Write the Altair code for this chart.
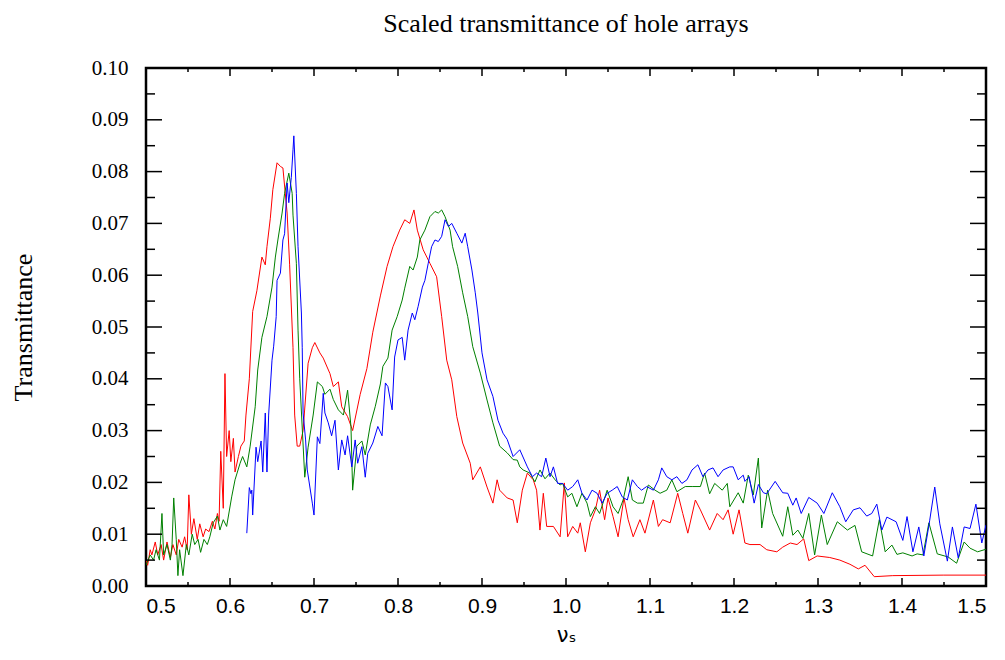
import altair as alt
import pandas as pd

# ---- data ----
red_x = [0.500,0.502,0.505,0.507,0.511,0.514,0.518,0.521,0.525,0.529,0.532,0.536,0.539,0.543,0.546,0.549,0.551,0.554,0.557,0.561,
         0.564,0.568,0.571,0.575,0.579,0.582,0.585,0.587,0.589,0.592,0.594,0.596,0.599,0.601,0.604,0.606,0.610,0.613,0.617,0.619,
         0.623,0.627,0.632,0.638,0.642,0.644,0.648,0.651,0.656,0.660,0.663,0.668,0.671,0.675,0.677,0.680,0.683,0.687,0.693,0.698,
         0.701,0.707,0.711,0.719,0.723,0.729,0.733,0.740,0.746,0.755,0.763,0.770,0.779,0.787,0.794,0.802,0.808,0.814,0.819,0.823,
         0.830,0.838,0.846,0.852,0.858,0.864,0.870,0.877,0.886,0.889,0.898,0.906,0.913,0.918,0.921,0.930,0.937,0.942,0.948,0.954,
         0.961,0.965,0.969,0.973,0.977,0.985,0.993,0.998,1.002,1.008,1.014,1.017,1.023,1.029,1.035,1.040,1.046,1.050,1.056,1.062,
         1.069,1.074,1.080,1.088,1.094,1.104,1.110,1.115,1.124,1.133,1.139,1.145,1.154,1.160,1.171,1.180,1.187,1.193,1.199,1.206,
         1.213,1.219,1.231,1.239,1.251,1.258,1.267,1.275,1.283,1.289,1.299,1.314,1.326,1.338,1.348,1.356,1.367,1.389,1.449,1.500]
red_y = [0.0050,0.0040,0.0070,0.0060,0.0085,0.0060,0.0080,0.0050,0.0085,0.0055,0.0080,0.0060,0.0090,0.0075,0.0095,0.0070,0.0176,0.0100,0.0130,0.0090,
         0.0120,0.0095,0.0110,0.0105,0.0125,0.0110,0.0140,0.0125,0.0260,0.0150,0.0410,0.0250,0.0300,0.0240,0.0285,0.0220,0.0250,0.0270,0.0280,0.0330,
         0.0400,0.0530,0.0570,0.0635,0.0620,0.0655,0.0710,0.0765,0.0817,0.0810,0.0807,0.0720,0.0620,0.0460,0.0330,0.0270,0.0270,0.0300,0.0430,0.0460,
         0.0470,0.0450,0.0440,0.0410,0.0385,0.0394,0.0346,0.0327,0.0300,0.0370,0.0420,0.0490,0.0560,0.0617,0.0655,0.0687,0.0707,0.0700,0.0726,0.0687,
         0.0649,0.0623,0.0597,0.0520,0.0436,0.0398,0.0327,0.0276,0.0237,0.0205,0.0230,0.0191,0.0160,0.0205,0.0185,0.0170,0.0166,0.0122,0.0185,0.0218,
         0.0205,0.0185,0.0108,0.0179,0.0115,0.0115,0.0095,0.0199,0.0095,0.0115,0.0102,0.0122,0.0066,0.0122,0.0147,0.0185,0.0128,0.0170,0.0134,0.0095,
         0.0170,0.0128,0.0095,0.0128,0.0102,0.0166,0.0115,0.0128,0.0122,0.0179,0.0140,0.0102,0.0166,0.0147,0.0108,0.0140,0.0128,0.0147,0.0100,0.0147,
         0.0083,0.0080,0.0080,0.0070,0.0066,0.0075,0.0083,0.0080,0.0091,0.0049,0.0058,0.0055,0.0050,0.0042,0.0033,0.0040,0.0018,0.0020,0.0021,0.0021]

green_x = [0.500,0.505,0.509,0.512,0.516,0.519,0.521,0.525,0.529,0.531,0.533,0.536,0.538,0.540,0.544,0.548,0.551,0.555,0.558,0.562,
           0.565,0.569,0.573,0.576,0.580,0.585,0.588,0.592,0.596,0.602,0.606,0.612,0.615,0.620,0.624,0.630,0.633,0.638,0.644,0.650,
           0.654,0.657,0.662,0.665,0.670,0.674,0.675,0.679,0.681,0.683,0.689,0.693,0.699,0.704,0.710,0.713,0.719,0.723,0.729,0.735,
           0.740,0.744,0.746,0.751,0.757,0.761,0.767,0.773,0.779,0.782,0.788,0.793,0.799,0.805,0.808,0.814,0.818,0.823,0.826,0.832,
           0.838,0.844,0.848,0.852,0.856,0.862,0.865,0.871,0.877,0.883,0.889,0.898,0.906,0.913,0.921,0.930,0.937,0.942,0.945,0.949,
           0.957,0.963,0.969,0.975,0.981,0.987,0.993,0.996,1.002,1.007,1.013,1.019,1.025,1.029,1.035,1.040,1.049,1.056,1.062,1.068,
           1.074,1.079,1.085,1.092,1.098,1.106,1.112,1.120,1.126,1.132,1.142,1.151,1.160,1.165,1.171,1.177,1.186,1.192,1.195,1.205,
           1.211,1.217,1.223,1.229,1.233,1.240,1.246,1.258,1.264,1.270,1.276,1.282,1.289,1.296,1.304,1.311,1.323,1.335,1.344,1.352,
           1.365,1.373,1.380,1.388,1.394,1.401,1.412,1.418,1.425,1.432,1.442,1.455,1.465,1.474,1.481,1.490,1.500]
green_y = [0.0040,0.0060,0.0050,0.0070,0.0050,0.0140,0.0060,0.0080,0.0050,0.0080,0.0170,0.0090,0.0020,0.0070,0.0020,0.0080,0.0060,0.0100,0.0080,0.0090,
           0.0065,0.0090,0.0080,0.0095,0.0122,0.0135,0.0108,0.0128,0.0115,0.0172,0.0205,0.0237,0.0250,0.0230,0.0270,0.0346,0.0417,0.0480,0.0520,0.0577,
           0.0635,0.0668,0.0720,0.0758,0.0797,0.0758,0.0716,0.0623,0.0494,0.0400,0.0210,0.0268,0.0330,0.0394,0.0385,0.0370,0.0380,0.0360,0.0340,0.0330,
           0.0378,0.0308,0.0185,0.0270,0.0280,0.0253,0.0311,0.0347,0.0390,0.0424,0.0440,0.0494,0.0520,0.0552,0.0575,0.0617,0.0610,0.0635,0.0668,0.0687,
           0.0713,0.0723,0.0720,0.0726,0.0713,0.0687,0.0655,0.0617,0.0566,0.0520,0.0462,0.0411,0.0359,0.0315,0.0270,0.0257,0.0244,0.0243,0.0230,0.0224,
           0.0218,0.0201,0.0224,0.0207,0.0218,0.0205,0.0195,0.0198,0.0172,0.0179,0.0153,0.0179,0.0160,0.0134,0.0153,0.0140,0.0185,0.0153,0.0140,0.0166,
           0.0211,0.0166,0.0160,0.0160,0.0195,0.0185,0.0179,0.0185,0.0205,0.0182,0.0192,0.0192,0.0192,0.0218,0.0178,0.0198,0.0185,0.0198,0.0153,0.0180,
           0.0160,0.0214,0.0176,0.0247,0.0112,0.0185,0.0140,0.0096,0.0153,0.0098,0.0108,0.0092,0.0140,0.0060,0.0137,0.0080,0.0124,0.0108,0.0117,0.0066,
           0.0058,0.0128,0.0066,0.0079,0.0061,0.0064,0.0058,0.0062,0.0060,0.0122,0.0062,0.0056,0.0044,0.0085,0.0073,0.0066,0.0071]

blue_x = [0.620,0.623,0.625,0.626,0.627,0.631,0.633,0.637,0.639,0.642,0.644,0.646,0.650,0.652,0.655,0.656,0.660,0.663,0.665,0.668,
          0.670,0.673,0.675,0.676,0.679,0.681,0.685,0.686,0.687,0.690,0.692,0.698,0.700,0.704,0.707,0.711,0.713,0.717,0.721,0.725,
          0.729,0.733,0.737,0.740,0.745,0.749,0.752,0.757,0.761,0.764,0.770,0.776,0.781,0.785,0.788,0.793,0.796,0.800,0.805,0.808,
          0.812,0.817,0.820,0.824,0.829,0.832,0.836,0.840,0.844,0.848,0.852,0.856,0.860,0.864,0.870,0.876,0.880,0.883,0.888,0.892,
          0.895,0.900,0.906,0.913,0.919,0.925,0.930,0.937,0.945,0.954,0.960,0.965,0.971,0.976,0.981,0.985,0.990,0.996,1.002,1.008,
          1.014,1.019,1.025,1.031,1.037,1.043,1.049,1.055,1.061,1.067,1.073,1.079,1.085,1.090,1.096,1.104,1.110,1.114,1.120,1.126,
          1.132,1.138,1.144,1.150,1.157,1.163,1.169,1.175,1.181,1.187,1.195,1.199,1.205,1.211,1.213,1.218,1.224,1.229,1.235,1.239,
          1.249,1.258,1.264,1.270,1.274,1.280,1.289,1.299,1.307,1.317,1.326,1.333,1.342,1.350,1.358,1.364,1.370,1.376,1.382,1.393,
          1.401,1.406,1.413,1.420,1.426,1.433,1.439,1.445,1.454,1.460,1.467,1.474,1.481,1.488,1.495,1.500]
blue_y = [0.0102,0.0190,0.0178,0.0185,0.0137,0.0268,0.0240,0.0280,0.0220,0.0334,0.0220,0.0330,0.0436,0.0463,0.0520,0.0590,0.0604,0.0668,0.0680,0.0778,
          0.0740,0.0789,0.0842,0.0869,0.0758,0.0655,0.0527,0.0460,0.0334,0.0282,0.0224,0.0160,0.0137,0.0288,0.0275,0.0372,0.0334,0.0315,0.0290,0.0320,
          0.0224,0.0282,0.0253,0.0290,0.0230,0.0282,0.0237,0.0269,0.0210,0.0256,0.0276,0.0308,0.0290,0.0392,0.0385,0.0340,0.0442,0.0475,0.0480,0.0436,
          0.0494,0.0527,0.0514,0.0540,0.0577,0.0590,0.0623,0.0655,0.0668,0.0665,0.0675,0.0707,0.0694,0.0700,0.0681,0.0662,0.0681,0.0655,0.0610,0.0566,
          0.0527,0.0450,0.0398,0.0366,0.0320,0.0295,0.0283,0.0250,0.0263,0.0230,0.0211,0.0218,0.0211,0.0247,0.0211,0.0230,0.0198,0.0198,0.0185,0.0192,
          0.0205,0.0179,0.0166,0.0185,0.0179,0.0160,0.0179,0.0185,0.0192,0.0172,0.0166,0.0205,0.0192,0.0185,0.0192,0.0185,0.0205,0.0228,0.0211,0.0205,
          0.0211,0.0198,0.0205,0.0224,0.0234,0.0211,0.0224,0.0228,0.0211,0.0224,0.0230,0.0230,0.0205,0.0214,0.0202,0.0211,0.0160,0.0196,0.0180,0.0178,
          0.0202,0.0180,0.0179,0.0156,0.0170,0.0140,0.0171,0.0160,0.0140,0.0180,0.0153,0.0124,0.0147,0.0151,0.0135,0.0140,0.0158,0.0108,0.0133,0.0124,
          0.0088,0.0134,0.0066,0.0114,0.0058,0.0127,0.0191,0.0120,0.0048,0.0114,0.0054,0.0114,0.0111,0.0158,0.0083,0.0118]

series_names = ["red", "green", "blue"]
series_colors = ["#ff0000", "#008000", "#0000ff"]

x_major = [0.5, 0.6, 0.7, 0.8, 0.9, 1.0, 1.1, 1.2, 1.3, 1.4, 1.5]
x_minor = [0.55, 0.65, 0.75, 0.85, 0.95, 1.05, 1.15, 1.25, 1.35, 1.45]
y_major = [0.00, 0.01, 0.02, 0.03, 0.04, 0.05, 0.06, 0.07, 0.08, 0.09, 0.10]
y_minor = [0.005, 0.015, 0.025, 0.035, 0.045, 0.055, 0.065, 0.075, 0.085, 0.095]

rows = []
for name, xs, ys in [("red", red_x, red_y), ("green", green_x, green_y), ("blue", blue_x, blue_y)]:
    for i, (a, b) in enumerate(zip(xs, ys)):
        rows.append({"series": name, "x": a, "y": b, "i": i})
df = pd.DataFrame(rows)

W, H = 840, 518
SERIF = "Liberation Serif"
SANS = "Liberation Sans"
xs_ = alt.Scale(domain=[0.5, 1.5], nice=False, zero=False)
ys_ = alt.Scale(domain=[0.0, 0.10], nice=False, zero=False)

x_axis = alt.Axis(values=x_major, format=".1f", labelFont=SANS, labelFontSize=21,
                  labelColor="black", labelPadding=9, ticks=False, domain=False, grid=False,
                  title="νₛ", titleFont="DejaVu Sans", titleFontSize=21, titleFontWeight="normal",
                  titleColor="black", titlePadding=8)
y_axis = alt.Axis(values=y_major, format=".2f", labelFont=SERIF, labelFontSize=21,
                  labelColor="black", labelPadding=18, ticks=False, domain=False, grid=False,
                  title="Transmittance", titleFont=SERIF, titleFontSize=26,
                  titleFontWeight="normal", titleColor="black", titleX=-110, titleY=259,
                  titleAngle=270, titleAlign="center", titleBaseline="bottom")

lines = alt.Chart(df).mark_line(strokeWidth=1, clip=True).encode(
    x=alt.X("x:Q", scale=xs_, axis=x_axis),
    y=alt.Y("y:Q", scale=ys_, axis=y_axis),
    color=alt.Color("series:N", scale=alt.Scale(domain=series_names, range=series_colors), legend=None),
    order="i:Q",
)

xt = pd.DataFrame({"v": x_major + x_minor, "len": [8] * len(x_major) + [4] * len(x_minor)})
yt = pd.DataFrame({"v": y_major + y_minor, "len": [16] * len(y_major) + [9] * len(y_minor)})

def xticks(top, length):
    d = xt[xt["len"] == length]
    y0 = 0 if top else H
    y1 = length if top else H - length
    return alt.Chart(d).mark_rule(color="black", strokeWidth=1.5).encode(
        x=alt.X("v:Q", scale=xs_, axis=x_axis), y=alt.value(y0), y2=alt.value(y1))

def yticks(right, length):
    d = yt[yt["len"] == length]
    x0 = W if right else 0
    x1 = W - length if right else length
    return alt.Chart(d).mark_rule(color="black", strokeWidth=1.5).encode(
        y=alt.Y("v:Q", scale=ys_, axis=y_axis), x=alt.value(x0), x2=alt.value(x1))

layers = [lines]
for top in (False, True):
    layers += [xticks(top, 8), xticks(top, 4)]
for right in (False, True):
    layers += [yticks(right, 16), yticks(right, 9)]

chart = alt.layer(*layers).properties(
    width=W, height=H, background="white",
    title=alt.TitleParams("Scaled transmittance of hole arrays", font=SERIF, fontSize=26,
                          fontWeight="normal", color="black", anchor="middle", offset=20),
    autosize=alt.AutoSizeParams(type="none"),
    padding={"left": 138, "top": 60, "right": 11, "bottom": 66},
).configure_view(stroke="black", strokeWidth=2.5).configure_axisY(labelFont=SERIF)

chart.save("out.html", embed_options={"renderer": "svg", "actions": False})
